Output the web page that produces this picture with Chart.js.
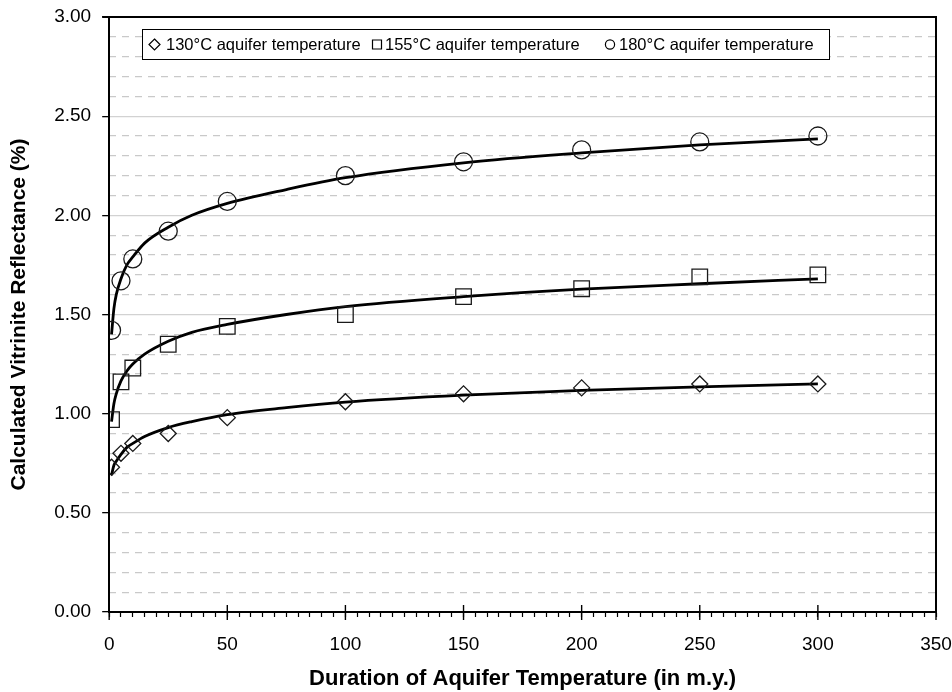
<!DOCTYPE html>
<html><head><meta charset="utf-8">
<script src="https://cdn.jsdelivr.net/npm/chart.js@4.4.1/dist/chart.umd.min.js"></script>
<style>html,body{margin:0;padding:0;background:#fff}canvas{display:block}</style>
</head><body>
<canvas id="c" width="952" height="692"></canvas>
<script>
// ---- data ----
const durations = [1, 5, 10, 25, 50, 100, 150, 200, 250, 300];
const ro130 = [0.73, 0.80, 0.85, 0.90, 0.98, 1.06, 1.10, 1.13, 1.15, 1.15];
const ro155 = [0.97, 1.16, 1.23, 1.35, 1.44, 1.50, 1.59, 1.63, 1.69, 1.70];
const ro180 = [1.42, 1.67, 1.78, 1.92, 2.07, 2.20, 2.27, 2.33, 2.37, 2.40];

// fitted curves
const trendDurations = [1, 2, 3, 5, 7.5, 10, 15, 25, 35, 50, 75, 100, 150, 200, 250, 300];
const trend130 = [0.69, 0.74, 0.76, 0.795, 0.83, 0.85, 0.885, 0.93, 0.96, 0.995, 1.03, 1.058, 1.093, 1.117, 1.135, 1.15];
const trend155 = [0.96, 1.05, 1.10, 1.165, 1.215, 1.25, 1.30, 1.365, 1.41, 1.45, 1.50, 1.54, 1.59, 1.628, 1.655, 1.68];
const trend180 = [1.40, 1.53, 1.60, 1.68, 1.75, 1.79, 1.86, 1.94, 2.00, 2.06, 2.13, 2.19, 2.265, 2.315, 2.355, 2.385];

const seriesLabels = ['130°C aquifer temperature', '155°C aquifer temperature', '180°C aquifer temperature'];
const markerStyles = ['rectRot', 'rect', 'circle'];
const xMajorTicks = [0, 50, 100, 150, 200, 250, 300, 350];
const yTickLabels = ['0.00', '0.50', '1.00', '1.50', '2.00', '2.50', '3.00'];
const xTitle = 'Duration of Aquifer Temperature (in m.y.)';
const yTitle = 'Calculated Vitrinite Reflectance (%)';

const pts = (xs, ys) => xs.map((x, i) => ({x: x, y: ys[i]}));
const FONT = "'Liberation Sans', Arial, Helvetica, sans-serif";

function markerSet(i, ys, r) {
  return {
    label: seriesLabels[i], data: pts(durations, ys), showLine: false,
    pointStyle: markerStyles[i], pointRadius: r, pointHoverRadius: r,
    pointBorderColor: '#1a1a1a', pointBackgroundColor: 'rgba(0,0,0,0)', pointBorderWidth: 1.3
  };
}
function curveSet(ys) {
  return {
    label: '', data: pts(trendDurations, ys), showLine: true, pointRadius: 0,
    borderColor: '#000', borderWidth: 2.8, cubicInterpolationMode: 'monotone', fill: false
  };
}
const noPad = s => { s.paddingTop = 0; s.paddingBottom = 0; s.paddingLeft = 0; s.paddingRight = 0; };

const frame = {
  id: 'frame',
  afterDraw(chart) {
    const {ctx, chartArea: a, scales} = chart;
    ctx.save();
    ctx.strokeStyle = '#000';
    ctx.lineWidth = 2;
    ctx.beginPath();
    ctx.moveTo(a.left - 7, a.top); ctx.lineTo(a.right, a.top); ctx.lineTo(a.right, a.bottom);
    ctx.stroke();
    // major x ticks crossing the axis
    ctx.lineWidth = 1.4;
    xMajorTicks.forEach(v => {
      const px = scales.x.getPixelForValue(v);
      ctx.beginPath(); ctx.moveTo(px, a.bottom - 7); ctx.lineTo(px, a.bottom + 8); ctx.stroke();
    });
    ctx.restore();
  }
};

const boxLegend = {
  id: 'boxLegend',
  afterDraw(chart) {
    const {ctx} = chart;
    const box = {l: 142.5, t: 29.5, r: 829.5, b: 59.5};
    const markX = [154.5, 377, 610];
    const textX = [166, 385, 619];
    const cy = (box.t + box.b) / 2;
    ctx.save();
    ctx.fillStyle = '#fff';
    ctx.fillRect(box.l, box.t, box.r - box.l, box.b - box.t);
    ctx.strokeStyle = '#000'; ctx.lineWidth = 1;
    ctx.strokeRect(box.l, box.t, box.r - box.l, box.b - box.t);
    ctx.lineWidth = 1.2;
    for (let i = 0; i < 3; i++) {
      const mx = markX[i];
      ctx.beginPath();
      if (markerStyles[i] === 'rectRot') {
        ctx.moveTo(mx, cy - 5.5); ctx.lineTo(mx + 5.5, cy); ctx.lineTo(mx, cy + 5.5); ctx.lineTo(mx - 5.5, cy); ctx.closePath();
      } else if (markerStyles[i] === 'rect') {
        ctx.rect(mx - 4.5, cy - 4.5, 9, 9);
      } else {
        ctx.arc(mx, cy, 4.6, 0, Math.PI * 2);
      }
      ctx.stroke();
      ctx.fillStyle = '#000';
      ctx.font = '16.5px ' + FONT;
      ctx.textBaseline = 'middle';
      ctx.textAlign = 'left';
      ctx.fillText(seriesLabels[i], textX[i], cy + 0.5);
    }
    ctx.restore();
  }
};

new Chart(document.getElementById('c'), {
  type: 'scatter',
  data: {
    datasets: [
      markerSet(0, ro130, 8), markerSet(1, ro155, 11), markerSet(2, ro180, 9),
      curveSet(trend130), curveSet(trend155), curveSet(trend180)
    ]
  },
  options: {
    responsive: false, animation: false, devicePixelRatio: 1,
    layout: {padding: {left: 7, right: 16, top: 17, bottom: 0}},
    plugins: {legend: {display: false}, tooltip: {enabled: false}},
    scales: {
      x: {
        type: 'linear', min: 0, max: 350,
        afterFit: s => { noPad(s); s.height = 80; },
        ticks: {
          stepSize: 5, autoSkip: false, maxRotation: 0, padding: 16, color: '#000',
          font: {family: FONT, size: 19},
          callback: v => (xMajorTicks.includes(v) ? String(v) : '')
        },
        grid: {drawOnChartArea: false, drawTicks: true, tickLength: 5, tickColor: '#000', tickWidth: 1.2},
        border: {display: true, color: '#000', width: 2},
        title: {display: true, text: xTitle, color: '#000', font: {family: FONT, size: 22, weight: 'bold'}, padding: {top: 0, bottom: 0}}
      },
      y: {
        type: 'linear', min: 0, max: 3, position: 'left',
        afterFit: noPad,
        ticks: {
          stepSize: 0.5, padding: 11, color: '#000',
          font: {family: FONT, size: 19},
          callback: (v) => yTickLabels[Math.round(v * 2)]
        },
        grid: {color: '#d2d2d2', lineWidth: 1.3, tickLength: 7, tickColor: '#000', tickWidth: 1.3},
        border: {display: true, color: '#000', width: 2, z: 2},
        title: {display: true, text: yTitle, color: '#000', font: {family: FONT, size: 21, weight: 'bold'}, padding: {top: 0, bottom: 11}}
      },
      yMinor: {
        type: 'linear', min: 0, max: 3, position: 'left',
        afterFit: noPad,
        ticks: {display: false, stepSize: 0.1},
        grid: {
          drawTicks: false, lineWidth: 1.2,
          color: ctx => (Math.round(ctx.tick.value * 10) % 5 === 0 ? 'rgba(0,0,0,0)' : '#c9c9c9')
        },
        border: {display: false, dash: [7, 6]}
      }
    }
  },
  plugins: [frame, boxLegend]
});
</script>
</body></html>
